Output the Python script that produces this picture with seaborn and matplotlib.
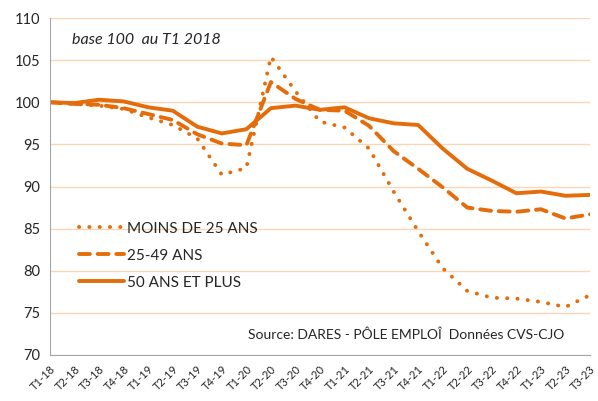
import numpy as np
import pandas as pd
import matplotlib
matplotlib.use("Agg")
import matplotlib.pyplot as plt
import matplotlib.transforms as mtransforms
import seaborn as sns

# quarters T1-18 .. T3-23
quarters = ["T1-18", "T2-18", "T3-18", "T4-18",
            "T1-19", "T2-19", "T3-19", "T4-19",
            "T1-20", "T2-20", "T3-20", "T4-20",
            "T1-21", "T2-21", "T3-21", "T4-21",
            "T1-22", "T2-22", "T3-22", "T4-22",
            "T1-23", "T2-23", "T3-23"]

moins_25 = [100.0, 99.8, 99.6, 99.2, 98.2, 97.3, 95.7, 91.4, 92.2, 105.4, 101.3, 97.7,
            97.0, 94.5, 89.4, 84.7, 80.3, 77.6, 76.8, 76.7, 76.3, 75.7, 77.1]
ans_25_49 = [100.0, 99.8, 99.7, 99.3, 98.6, 97.9, 96.2, 95.1, 94.9, 102.4, 100.4, 99.1,
             99.0, 97.2, 94.2, 92.1, 89.9, 87.5, 87.1, 87.0, 87.3, 86.2, 86.7]
ans_50_plus = [100.0, 99.9, 100.3, 100.1, 99.4, 99.0, 97.1, 96.3, 96.8, 99.3, 99.6, 99.1,
               99.4, 98.1, 97.5, 97.3, 94.5, 92.1, 90.7, 89.2, 89.4, 88.9, 89.0]

labels = ["MOINS DE 25 ANS", "25-49 ANS", "50 ANS ET PLUS"]

df = pd.DataFrame({
    "x": list(range(len(quarters))) * 3,
    "value": moins_25 + ans_25_49 + ans_50_plus,
    "serie": [labels[0]] * len(quarters) + [labels[1]] * len(quarters) + [labels[2]] * len(quarters),
})

sns.set_style("white")
plt.rcParams["font.family"] = ["Lato", "DejaVu Sans"]

orange = "#E46C0A"
grid_col = "#FCD5B5"

fig = plt.figure(figsize=(5.98, 4.01), dpi=100)
ax = fig.add_axes([50 / 598, 1 - 355 / 401, 540 / 598, 337 / 401])

styles = {
    labels[0]: dict(linestyle=(0, (0.05, 2.6)), dash_capstyle="round", lw=2.8),
    labels[1]: dict(linestyle=(0, (2.8, 2.0)), dash_capstyle="round", lw=2.8),
    labels[2]: dict(linestyle="-", lw=2.8),
}
for lab in labels:
    sub = df[df["serie"] == lab]
    sns.lineplot(data=sub, x="x", y="value", ax=ax, color=orange, label=lab,
                 solid_capstyle="round", **styles[lab])

ax.set_xlim(0, len(quarters) - 1)
ax.set_ylim(70, 110)
ax.set_yticks(np.arange(70, 111, 5))
ax.set_yticklabels([str(v) for v in range(70, 111, 5)], fontsize=10.5)
ax.set_xticks(range(len(quarters)))
ax.set_xticklabels(quarters, rotation=45, ha="right", rotation_mode="anchor", fontsize=8)
# shift the rotated labels a little to the right, like Excel does (not the last one, at the edge)
offset = mtransforms.ScaledTranslation(6 / 100, 0, fig.dpi_scale_trans)
xlabels = ax.get_xticklabels()
for t in xlabels[:-1]:
    t.set_transform(t.get_transform() + offset)
ax.set_xlabel("")
ax.set_ylabel("")

ax.yaxis.grid(True, color=grid_col, lw=1)
ax.set_axisbelow(True)
for s in ["top", "right"]:
    ax.spines[s].set_visible(False)
ax.spines["left"].set_color("#A6A6A6")
ax.spines["bottom"].set_color("#A6A6A6")
ax.tick_params(axis="x", which="major", direction="out", length=4, color="#A6A6A6", pad=2)
ax.tick_params(axis="y", length=4, color="#A6A6A6", direction="out", pad=3)

leg = ax.legend(loc="upper left", bbox_to_anchor=(0.029, 0.436), frameon=False,
                fontsize=11, handlelength=2.9, handletextpad=0.2, labelspacing=0.85)

ax.text(0.04, 0.935, "base 100  au T1 2018", transform=ax.transAxes,
        fontsize=11.5, style="italic", va="center", ha="left")
ax.text(0.367, 0.059, "Source: DARES - PÔLE EMPLOÎ  Données CVS-CJO", transform=ax.transAxes,
        fontsize=10, va="center", ha="left")

fig.savefig("out.png", dpi=100)
